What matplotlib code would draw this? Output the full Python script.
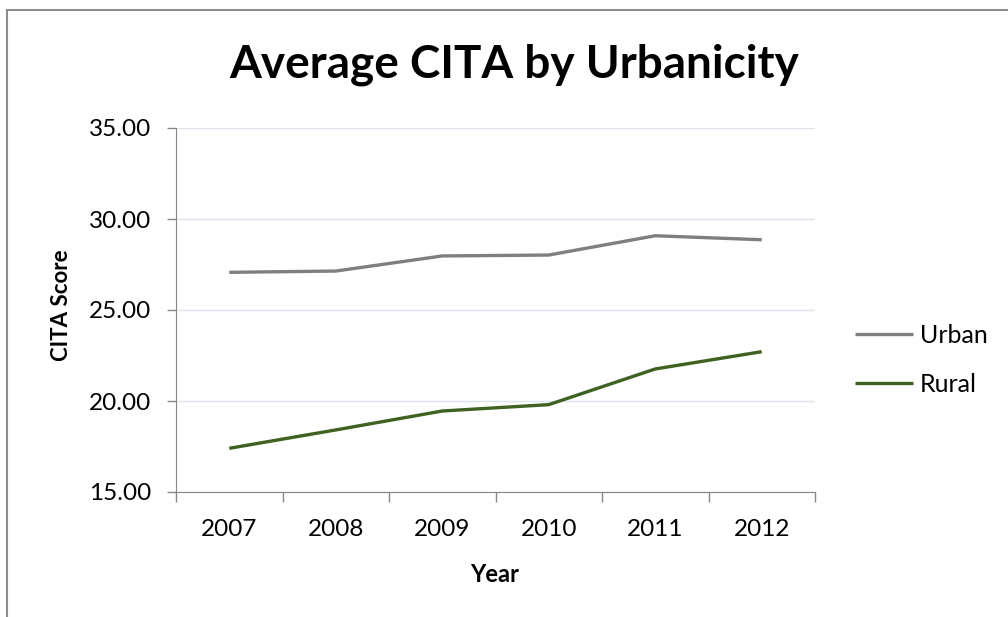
import matplotlib.pyplot as plt
from matplotlib.patches import Rectangle

# data
years = ['2007', '2008', '2009', '2010', '2011', '2012']
urban = [27.07, 27.14, 27.97, 28.02, 29.08, 28.86]
rural = [17.40, 18.41, 19.45, 19.80, 21.76, 22.71]

plt.rcParams['font.family'] = ['Lato', 'DejaVu Sans']

W, H = 1008, 617
fig = plt.figure(figsize=(W / 100, H / 100), dpi=100)
ax = fig.add_axes([176 / W, 1 - 492 / H, 639 / W, 364 / H])

# chart area outline (cropped at right / bottom)
fig.patches.append(Rectangle((7 / W, -0.1), 1.2, 1 - 10 / H + 0.1,
                             transform=fig.transFigure, fill=False,
                             edgecolor='#8c8c8c', linewidth=1.5))

x = [i + 0.5 for i in range(len(years))]
ax.plot(x, urban, color='#7f7f7f', linewidth=2.4, label='Urban', solid_capstyle='butt')
ax.plot(x, rural, color='#3f6121', linewidth=2.4, label='Rural', solid_capstyle='butt')

ax.set_xlim(0, len(years))
ax.set_ylim(15, 35)
ax.set_yticks([15, 20, 25, 30, 35])
ax.set_yticklabels(['%.2f' % v for v in [15, 20, 25, 30, 35]], fontsize=17.5)
ax.set_xticks(range(len(years) + 1))
ax.set_xticklabels([])
ax.set_xticks(x, minor=True)
ax.set_xticklabels(years, minor=True, fontsize=17.5)
ax.tick_params(axis='x', which='major', length=7, width=1, color='#868686', direction='out')
ax.tick_params(axis='x', which='minor', length=0, pad=19.5)
ax.tick_params(axis='y', length=6.5, width=1, color='#868686', pad=11.5)

ax.grid(axis='y', color='#dce4ee', linewidth=1)
ax.set_axisbelow(True)
for s in ['top', 'right']:
    ax.spines[s].set_visible(False)
ax.spines['left'].set_color('#868686')
ax.spines['bottom'].set_color('#868686')

# axis titles and chart title
fig.text(495 / W, 1 - 582 / H, 'Year', ha='center', va='baseline',
         fontsize=17, fontweight='bold')
fig.text(61 / W, 1 - 305 / H, 'CITA Score', ha='center', va='center', rotation=90,
         fontsize=16, fontweight='bold')
fig.text(514 / W, 1 - 77 / H, 'Average CITA by Urbanicity', ha='center', va='baseline',
         fontsize=33, fontweight='bold')

ax.legend(loc='center left', bbox_to_anchor=(855 / W, 1 - 360 / H),
          bbox_transform=fig.transFigure, frameon=False, borderpad=0, borderaxespad=0,
          fontsize=18, handlelength=2.3, handletextpad=0.3, labelspacing=1.05)

fig.savefig('out.png', dpi=100)
